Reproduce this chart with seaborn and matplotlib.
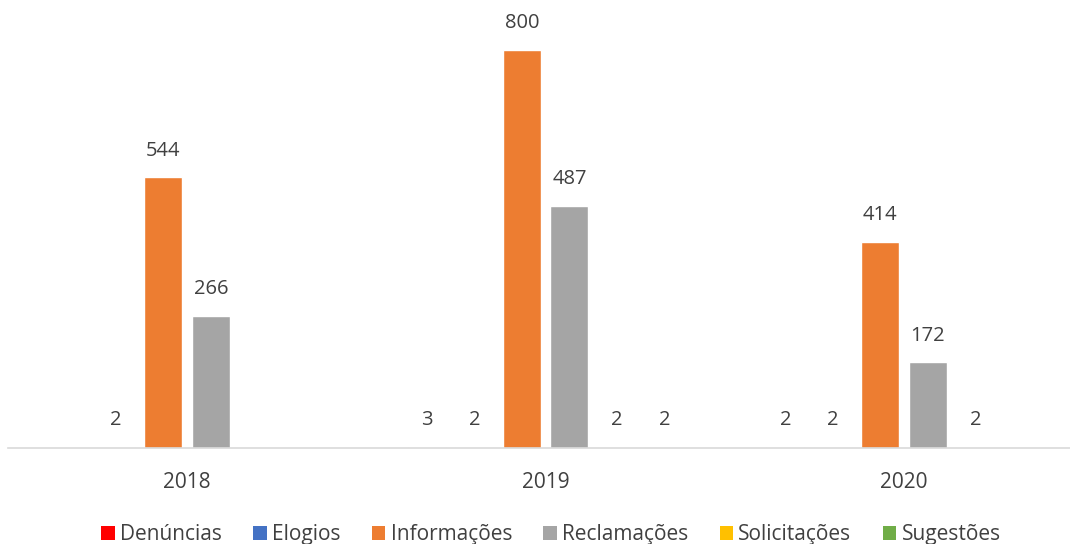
import numpy as np
import pandas as pd
import matplotlib
matplotlib.use("Agg")
import matplotlib.pyplot as plt
import seaborn as sns
from matplotlib.patches import Patch

years = ["2018", "2019", "2020"]
categories = ["Denúncias", "Elogios", "Informações", "Reclamações", "Solicitações", "Sugestões"]
denuncias = [np.nan, 3, 2]
elogios = [2, 2, 2]
informacoes = [544, 800, 414]
reclamacoes = [266, 487, 172]
solicitacoes = [np.nan, 2, 2]
sugestoes = [np.nan, 2, np.nan]
colors = ["#FF0000", "#4472C4", "#ED7D31", "#A5A5A5", "#FFC000", "#70AD47"]

series = [denuncias, elogios, informacoes, reclamacoes, solicitacoes, sugestoes]
rows = []
for cat, vals in zip(categories, series):
    for y, v in zip(years, vals):
        rows.append({"Ano": y, "Tipo": cat, "Valor": v})
df = pd.DataFrame(rows)

sns.set_theme(style="white")
plt.rcParams["font.family"] = ["Open Sans", "DejaVu Sans"]

fig = plt.figure(figsize=(10.7, 5.44), dpi=100)
ax = fig.add_axes([8 / 1070, 1 - 448 / 544, 1062 / 1070, 448 / 544])

sns.barplot(data=df, x="Ano", y="Valor", hue="Tipo", hue_order=categories,
            palette=colors, width=0.795, gap=0.2, ax=ax, legend=False,
            errorbar=None, saturation=1)

for cont, vals in zip(ax.containers, series):
    present = [v for v in vals if not np.isnan(v)]
    bars = [b for b in cont.patches if b is not None]
    for bar, v in zip(bars, present):
        ax.annotate(f"{int(v)}", (bar.get_x() + bar.get_width() / 2, bar.get_height()),
                    xytext=(0, 12), textcoords="offset points", ha="center", va="bottom",
                    fontsize=14.5, color="#404040")

ax.set_ylim(0, 900)
ax.set_xlim(-0.5, 2.463)
ax.set_xlabel("")
ax.set_ylabel("")
ax.set_yticks([])
for s in ["top", "right", "left"]:
    ax.spines[s].set_visible(False)
ax.spines["bottom"].set_color("#D9D9D9")
ax.spines["bottom"].set_linewidth(1.2)
ax.tick_params(axis="x", length=0, labelsize=15, labelcolor="#404040", pad=17)

handles = [Patch(facecolor=c, edgecolor="none") for c in colors]
fig.legend(handles, categories, loc="lower center", bbox_to_anchor=(0.515, -0.037),
           ncol=6, frameon=False, fontsize=15, handlelength=0.65, handleheight=0.65,
           handletextpad=0.25, columnspacing=1.5, labelcolor="#404040")

fig.savefig("out.png", dpi=100)
